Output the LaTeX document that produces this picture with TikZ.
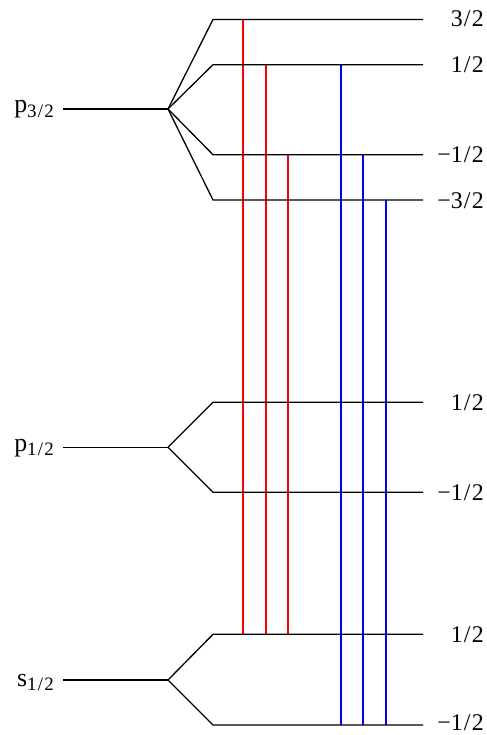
\documentclass[tikz,border=0pt]{standalone}
\usepackage{fontspec}
\setmainfont{Liberation Serif}
\definecolor{tred}{RGB}{255,0,0}
\definecolor{tblue}{RGB}{0,0,255}
\newcommand{\slh}{\kern1.2pt/\kern1.2pt}
\newcommand{\sublab}[2]{#1\raisebox{-5pt}{\fontsize{19}{19}\selectfont #2}}
\begin{document}
\begin{tikzpicture}[x=1bp,y=-1bp,
  lvl/.style={line width=1.3bp,black},
  redt/.style={line width=1.7bp,draw=tred},
  bluet/.style={line width=1.7bp,draw=tblue},
  mlab/.style={anchor=base east,font=\fontsize{24}{24}\selectfont,inner sep=0pt},
  tlab/.style={anchor=base east,font=\fontsize{26}{26}\selectfont,inner sep=0pt}]
\useasboundingbox (0,0) rectangle (487,735);
% p3/2
\coordinate (pA0) at (63,109);   \coordinate (pA) at (168,109);
\coordinate (pA1s) at (213,19.5);  \coordinate (pA1e) at (423,19.5);
\coordinate (pA2s) at (213,64.7);  \coordinate (pA2e) at (423,64.7);
\coordinate (pA3s) at (213,154.7); \coordinate (pA3e) at (423,154.7);
\coordinate (pA4s) at (213,200);   \coordinate (pA4e) at (423,200);
% p1/2
\coordinate (pB0) at (63,447.3);  \coordinate (pB) at (168,447.3);
\coordinate (pB1s) at (213,402.3); \coordinate (pB1e) at (423,402.3);
\coordinate (pB2s) at (213,492.3); \coordinate (pB2e) at (423,492.3);
% s1/2
\coordinate (sA0) at (63,680);  \coordinate (sA) at (168,680);
\coordinate (sA1s) at (213,634.3); \coordinate (sA1e) at (423,634.3);
\coordinate (sA2s) at (213,725);   \coordinate (sA2e) at (423,725);

% transitions (drawn first, levels on top)
\coordinate (r1t) at (243,19.5);  \coordinate (r1b) at (243,634.3);
\coordinate (r2t) at (266,64.7);  \coordinate (r2b) at (266,634.3);
\coordinate (r3t) at (288,154.7); \coordinate (r3b) at (288,634.3);
\coordinate (b1t) at (341,64.7);  \coordinate (b1b) at (341,725);
\coordinate (b2t) at (363,154.7); \coordinate (b2b) at (363,725);
\coordinate (b3t) at (386,200);   \coordinate (b3b) at (386,725);
\draw[redt] (r1t) -- (r1b);
\draw[redt] (r2t) -- (r2b);
\draw[redt] (r3t) -- (r3b);
\draw[bluet] (b1t) -- (b1b);
\draw[bluet] (b2t) -- (b2b);
\draw[bluet] (b3t) -- (b3b);

\draw[lvl] (pA0) -- (pA);
\draw[lvl] (pA) -- (pA1s) -- (pA1e);
\draw[lvl] (pA) -- (pA2s) -- (pA2e);
\draw[lvl] (pA) -- (pA3s) -- (pA3e);
\draw[lvl] (pA) -- (pA4s) -- (pA4e);
\draw[lvl] (pB0) -- (pB);
\draw[lvl] (pB) -- (pB1s) -- (pB1e);
\draw[lvl] (pB) -- (pB2s) -- (pB2e);
\draw[lvl] (sA0) -- (sA);
\draw[lvl] (sA) -- (sA1s) -- (sA1e);
\draw[lvl] (sA) -- (sA2s) -- (sA2e);

% left labels
\node[tlab] (lp3) at (54,113) {\sublab{p}{3\slh 2}};
\node[tlab] (lp1) at (54,451) {\sublab{p}{1\slh 2}};
\node[tlab] (ls1) at (54,686) {\sublab{s}{1\slh 2}};

% right labels
\node[mlab] (m1) at (484,27) {3\slh 2};
\node[mlab] (m2) at (484,72.5) {1\slh 2};
\node[mlab] (m3) at (484,162.5) {−1\slh 2};
\node[mlab] (m4) at (484,208) {−3\slh 2};
\node[mlab] (m5) at (484,410) {1\slh 2};
\node[mlab] (m6) at (484,500) {−1\slh 2};
\node[mlab] (m7) at (484,642) {1\slh 2};
\node[mlab] (m8) at (484,730) {−1\slh 2};
\end{tikzpicture}
\end{document}
